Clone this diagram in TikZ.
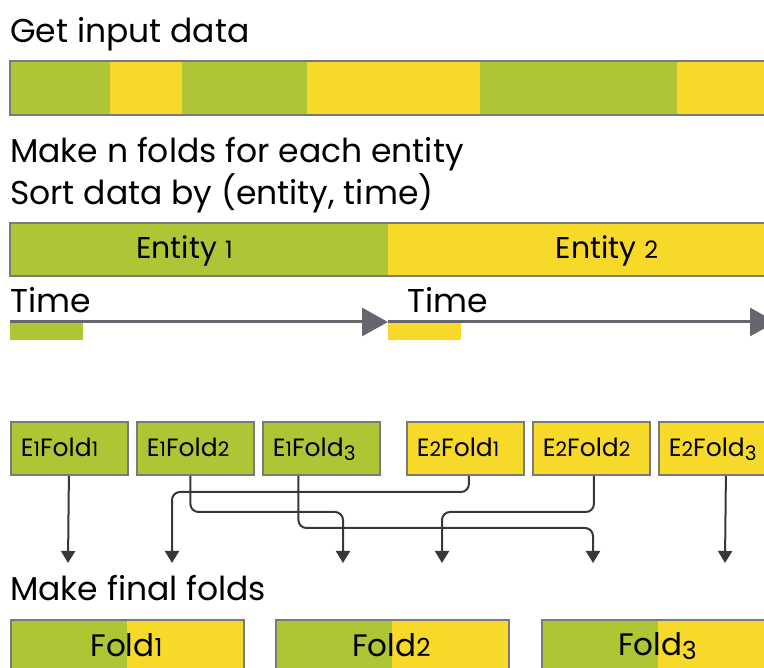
\documentclass[tikz,border=0pt]{standalone}
\usepackage{fontspec}
\setmainfont{Poppins}
\usetikzlibrary{arrows.meta}
\definecolor{cgreen}{HTML}{AEC536}
\definecolor{cyellow}{HTML}{F7D92A}
\definecolor{cborder}{HTML}{7A7A7A}
\definecolor{ctime}{HTML}{66666E}
\definecolor{cconn}{HTML}{37373C}
% old-style looking figures
\newcommand\od[1]{\scalebox{0.8}{#1}}
\newcommand\odd[1]{\raisebox{-0.16em}{\scalebox{0.8}{#1}}}
\begin{document}
\begin{tikzpicture}[x=1pt,y=-1pt,
  heading/.style={anchor=base west,inner sep=0pt,font=\fontsize{33}{38}\selectfont},
  timelabel/.style={anchor=base west,inner sep=0pt,font=\fontsize{33}{38}\selectfont},
  entlabel/.style={anchor=base,inner sep=0pt,font=\fontsize{30}{36}\selectfont},
  barline/.style={draw=cborder,line width=2pt},
  timeline/.style={draw=ctime,line width=3pt,-{Triangle[length=26pt,width=28pt]}},
  foldbox/.style={rectangle,anchor=north west,draw=cborder,line width=1.8pt,
    minimum width=117pt,minimum height=53pt,inner xsep=10pt,inner ysep=0pt,
    text width=97pt,align=left,text height=17pt,text depth=0pt,
    font=\fontsize{25}{30}\selectfont},
  finalbox/.style={rectangle,anchor=north west,draw=cborder,line width=1.8pt,
    minimum width=233pt,minimum height=51pt,inner sep=0pt,
    path picture={
      \fill[cgreen] (path picture bounding box.south west) rectangle (path picture bounding box.north);
      \fill[cyellow] (path picture bounding box.south) rectangle (path picture bounding box.north east);}},
  finallabel/.style={anchor=base,inner sep=0pt,font=\fontsize{31}{36}\selectfont},
  conn/.style={draw=cconn,line width=2pt,rounded corners=8pt,-{Triangle[length=12pt,width=14pt]}}
]
\useasboundingbox (0,0) rectangle (764,668);
\clip (0,0) rectangle (764,668);

% input data
\node[heading] (h1) at (10,43) {Get input data};
\fill[cgreen]  (10,61) rectangle (110,115);
\fill[cyellow] (110,61) rectangle (182,115);
\fill[cgreen]  (182,61) rectangle (307,115);
\fill[cyellow] (307,61) rectangle (480,115);
\fill[cgreen]  (480,61) rectangle (677,115);
\fill[cyellow] (677,61) rectangle (800,115);
\draw[barline] (800,61) -- (10,61) -- (10,115) -- (800,115);

% entities sorted by time
\node[heading] (h2) at (10,163) {Make n folds for each entity};
\node[heading] (h3) at (10,205) {Sort data by (entity, time)};
\fill[cgreen]  (10,223) rectangle (388,276);
\fill[cyellow] (388,223) rectangle (800,276);
\draw[barline] (800,223) -- (10,223) -- (10,276) -- (800,276);
\node[entlabel] (ent1) at (184.5,259) {Entity \od{1}};
\node[entlabel] (ent2) at (607,259) {Entity \od{2}};

% time axes
\node[timelabel] (time1) at (10,313) {Time};
\node[timelabel] (time2) at (407,313) {Time};
\fill[cgreen]  (10,323) rectangle (83,340);
\fill[cyellow] (388,323) rectangle (461,340);
\coordinate (ta0) at (10,322);
\coordinate (ta1) at (388,322);
\coordinate (tb1) at (776,322);
\draw[timeline] (ta0) -- (ta1);
\draw[timeline] (ta1) -- (tb1);

% folds per entity
\node[foldbox,fill=cgreen]  (e11) at (10,421)  {E\od{1}Fold\od{1}};
\node[foldbox,fill=cgreen]  (e12) at (136,421) {E\od{1}Fold\od{2}};
\node[foldbox,fill=cgreen]  (e13) at (262,421) {E\od{1}Fold\odd{3}};
\node[foldbox,fill=cyellow] (e21) at (406,421) {E\od{2}Fold\od{1}};
\node[foldbox,fill=cyellow] (e22) at (532,421) {E\od{2}Fold\od{2}};
\node[foldbox,fill=cyellow] (e23) at (658,421) {E\od{2}Fold\odd{3}};

% arrow ends and bends
\coordinate (t1) at (68,563);
\coordinate (t2) at (172,563);
\coordinate (t3) at (343,563);
\coordinate (t4) at (442,563);
\coordinate (t5) at (593,563);
\coordinate (t6) at (725,563);
\coordinate (b2) at (172,492);
\coordinate (b3) at (343,512);
\coordinate (b4) at (442,512);
\coordinate (b5) at (593,528);

\draw[conn] ([xshift=-0.5pt]e11.south) -- (t1);
\draw[conn] ([xshift=3.5pt]e21.south) |- (b2) -- (t2);
\draw[conn] ([xshift=-5pt]e12.south) |- (b3) -- (t3);
\draw[conn] ([xshift=2.5pt]e22.south) |- (b4) -- (t4);
\draw[conn] ([xshift=-23pt]e13.south) |- (b5) -- (t5);
\draw[conn] ([xshift=8.5pt]e23.south) -- (t6);

% final folds
\node[heading] (h4) at (10,600) {Make final folds};
\node[finalbox] (f1) at (10,619)  {};
\node[finalbox] (f2) at (275,619) {};
\node[finalbox] (f3) at (541,619) {};
\node[finallabel] (l1) at (126.5,656) {Fold\od{1}};
\node[finallabel] (l2) at (391.5,656) {Fold\od{2}};
\node[finallabel] (l3) at (657.5,655) {Fold\odd{3}};
\end{tikzpicture}
\end{document}
